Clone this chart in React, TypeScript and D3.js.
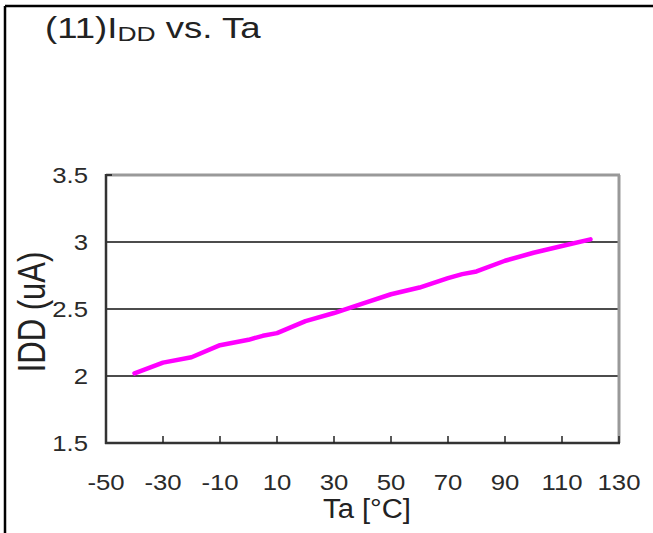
import React from "react";
import * as d3 from "d3";

// Supply current vs. ambient temperature
const temps = [-40, -30, -20, -10, 0, 5, 10, 20, 30, 40, 50, 60, 70, 75, 80, 90, 100, 110, 120];
const iddValues = [2.02, 2.1, 2.14, 2.23, 2.27, 2.3, 2.32, 2.41, 2.47, 2.54, 2.61, 2.66, 2.73, 2.76, 2.78, 2.86, 2.92, 2.97, 3.02];

const xTicks = [-50, -30, -10, 10, 30, 50, 70, 90, 110, 130];
const yTicks = [1.5, 2, 2.5, 3, 3.5];
const gridValues = [2, 2.5, 3];

const W = 653;
const H = 533;
const plot = { left: 106, right: 619, top: 175, bottom: 443 };
const font = "'Liberation Sans', Arial, sans-serif";
// Text in this figure is slightly wide relative to its height
const stretch = 1.17;

export default function App() {
  const x = d3.scaleLinear().domain([-50, 130]).range([plot.left, plot.right]);
  const y = d3.scaleLinear().domain([1.5, 3.5]).range([plot.bottom, plot.top]);

  const line = d3
    .line<number>()
    .x((_, i) => x(temps[i]))
    .y((d) => y(d));

  return (
    <div style={{ position: "absolute", left: 0, top: 0 }}>
      <svg width={W} height={H} style={{ display: "block", background: "#fff" }}>
        {/* page frame */}
        <line x1={5} y1={6} x2={W} y2={6} stroke="#000" strokeWidth={2.5} />
        <line x1={5} y1={6} x2={5} y2={H} stroke="#000" strokeWidth={2.5} />

        {/* title */}
        <text
          transform={`translate(45, 38) scale(1.26, 1)`}
          fontFamily={font}
          fontSize={29}
          fill="#222"
        >
          (11)I
          <tspan fontSize={21} dy={3}>DD</tspan>
          <tspan dy={-3}> vs. Ta</tspan>
        </text>

        {/* gridlines */}
        {gridValues.map((v) => (
          <line key={v} x1={plot.left} x2={plot.right} y1={y(v)} y2={y(v)} stroke="#111" strokeWidth={1.5} />
        ))}

        {/* plot frame: light top/right, dark left/bottom */}
        <line x1={plot.left} x2={plot.right + 1} y1={plot.top} y2={plot.top} stroke="#999" strokeWidth={3} />
        <line x1={plot.right} x2={plot.right} y1={plot.top} y2={plot.bottom} stroke="#999" strokeWidth={3} />
        <line x1={plot.left} x2={plot.left} y1={plot.top - 1} y2={plot.bottom + 1} stroke="#333" strokeWidth={2.5} />
        <line x1={plot.left - 1} x2={plot.right + 1} y1={plot.bottom} y2={plot.bottom} stroke="#333" strokeWidth={2.5} />
        <line x1={plot.left} x2={plot.left + 6} y1={plot.top} y2={plot.top} stroke="#333" strokeWidth={2} />

        {/* x ticks */}
        {xTicks.slice(1).map((t) => (
          <line key={t} x1={x(t)} x2={x(t)} y1={plot.bottom} y2={plot.bottom - 7} stroke="#222" strokeWidth={1.5} />
        ))}

        {/* data */}
        <path
          d={line(iddValues) ?? ""}
          fill="none"
          stroke="#ff00ff"
          strokeWidth={4.5}
          strokeLinecap="round"
          strokeLinejoin="round"
        />

        {/* tick labels */}
        {xTicks.map((t) => (
          <text
            key={t}
            transform={`translate(${x(t)}, 490) scale(${stretch}, 1)`}
            textAnchor="middle"
            fontFamily={font}
            fontSize={22}
            fill="#2a2a2a"
          >
            {t}
          </text>
        ))}
        {yTicks.map((t) => (
          <text
            key={t}
            transform={`translate(88, ${y(t) + 8}) scale(${stretch}, 1)`}
            textAnchor="end"
            fontFamily={font}
            fontSize={22}
            fill="#2a2a2a"
          >
            {t}
          </text>
        ))}

        {/* axis titles */}
        <text
          transform={`translate(367, 518) scale(1.08, 1)`}
          textAnchor="middle"
          fontFamily={font}
          fontSize={27}
          fill="#222"
        >
          Ta [°C]
        </text>
        <text
          transform={`translate(45, 312) scale(1.25, 1) rotate(-90)`}
          textAnchor="middle"
          fontFamily={font}
          fontSize={31}
          fill="#222"
        >
          IDD (uA)
        </text>
      </svg>
    </div>
  );
}
